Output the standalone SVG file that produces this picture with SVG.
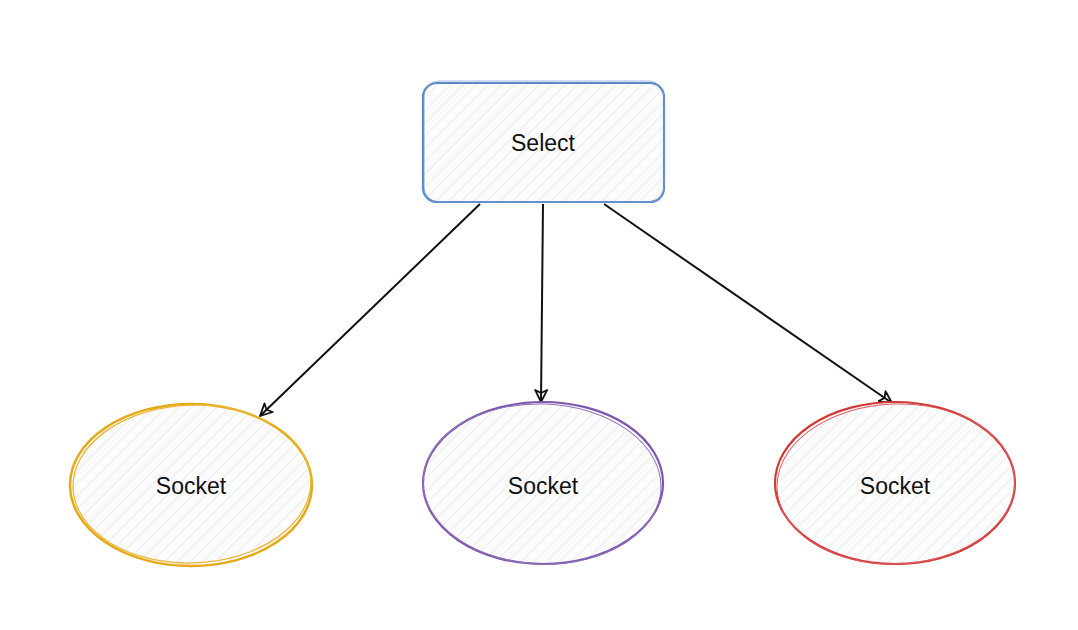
<svg xmlns="http://www.w3.org/2000/svg" width="1078" height="630" viewBox="0 0 1078 630">
<style>
.lbl{font-family:"Liberation Sans",Arial,sans-serif;font-size:23px;fill:#111;text-anchor:middle;dominant-baseline:central}
.edge{stroke:#111;stroke-width:2;fill:none}
</style>
<defs>
<pattern id="hatch" patternUnits="userSpaceOnUse" width="9" height="9" patternTransform="rotate(45)">
<rect width="9" height="9" fill="#fcfcfd"/>
<line x1="0" y1="0" x2="0" y2="9" stroke="#e2e2e6" stroke-width="1.2"/>
</pattern>
<marker id="arr" viewBox="0 0 14 14" refX="13" refY="7" markerWidth="14" markerHeight="14" markerUnits="userSpaceOnUse" orient="auto">
<path d="M1,1 L13,7 L1,13 L4,7 Z" fill="none" stroke="#111" stroke-width="1.8" stroke-linejoin="round"/>
</marker>
</defs>
<rect width="1078" height="630" fill="#ffffff"/>
<g id="edges">
<path class="edge" d="M480,204 L260,416" marker-end="url(#arr)"/>
<path class="edge" d="M543,204 L541,402" marker-end="url(#arr)"/>
<path class="edge" d="M604,204 L892,403" marker-end="url(#arr)"/>
</g>
<g id="select">
<rect x="423" y="83" width="241" height="119" rx="14" fill="url(#hatch)" stroke="#5b88c8" stroke-width="2.2"/>
<rect x="424" y="81" width="240" height="121" rx="15" fill="none" stroke="#7a9fd6" stroke-width="1" opacity="0.7"/>
<text class="lbl" x="543" y="143">Select</text>
</g>
<g id="socket1">
<ellipse cx="191" cy="485" rx="121" ry="81" fill="url(#hatch)" stroke="#e4a916" stroke-width="2.4"/>
<ellipse cx="192" cy="484" rx="119" ry="79" fill="none" stroke="#eab736" stroke-width="1.3" transform="rotate(-2 192 484)"/>
<text class="lbl" x="191" y="486">Socket</text>
</g>
<g id="socket2">
<ellipse cx="543" cy="483" rx="120" ry="81" fill="url(#hatch)" stroke="#7d56ad" stroke-width="2.2"/>
<ellipse cx="542" cy="484" rx="119" ry="80" fill="none" stroke="#9275bd" stroke-width="1" transform="rotate(2 542 484)"/>
<text class="lbl" x="543" y="486">Socket</text>
</g>
<g id="socket3">
<ellipse cx="895" cy="483" rx="120" ry="81" fill="url(#hatch)" stroke="#d23a3a" stroke-width="2.2"/>
<ellipse cx="896" cy="484" rx="119" ry="80" fill="none" stroke="#de5e5e" stroke-width="1" transform="rotate(-2 896 484)"/>
<text class="lbl" x="895" y="486">Socket</text>
</g>
</svg>
